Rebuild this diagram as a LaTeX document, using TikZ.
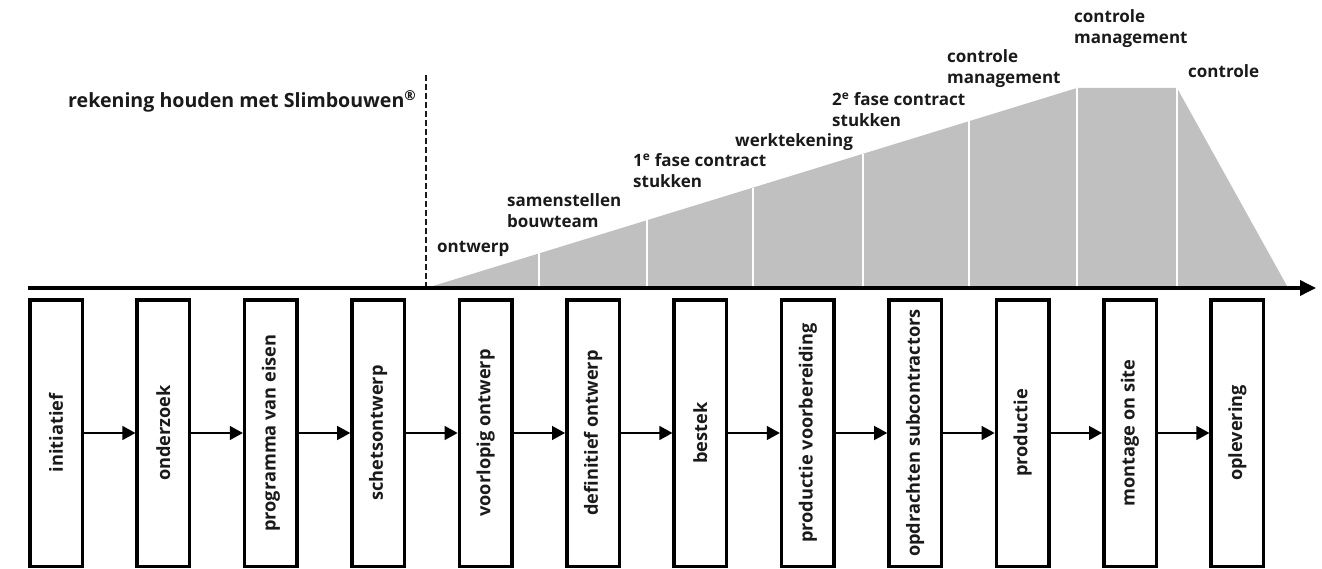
\documentclass[tikz,border=0pt]{standalone}
\usepackage{fontspec}
\setmainfont{Open Sans}
\usetikzlibrary{arrows.meta}
\definecolor{fillgrey}{RGB}{192,192,192}
\definecolor{inkc}{RGB}{26,26,26}
\tikzset{
  lbl/.style={anchor=north west, inner sep=0pt, align=left, text=inkc,
    font=\fontsize{17}{21}\selectfont\bfseries},
  stage/.style={draw=black, line width=3.5pt, minimum width=52.5pt, minimum height=266.5pt,
    inner sep=0pt},
  stagetxt/.style={rotate=90, text=inkc, font=\fontsize{18.2}{22}\selectfont\bfseries},
  flow/.style={draw=black, line width=1.4pt, -{Triangle[length=13pt,width=14pt]}},
  divider/.style={draw=white, line width=1.6pt},
}
\begin{document}
\begin{tikzpicture}[x=1pt,y=-1pt]
\useasboundingbox (0,0) rectangle (1322,569);
% grey effort shape
\fill[fillgrey] (433,286) -- (1077,88) -- (1177,88) -- (1287,286) -- cycle;
\foreach \xx/\yy in {539/253.4, 647/220.2, 753/187.6, 863/153.8, 969/121.2, 1077/88, 1177/88}
  \draw[divider] (\xx,286) -- (\xx,\yy);
% dashed separator
\coordinate (dtop) at (426,75);
\coordinate (dbot) at (426,288);
\draw[inkc, line width=2.2pt, dash pattern=on 6pt off 3pt] (dtop) -- (dbot);
% time axis
\coordinate (axs) at (28,288);
\coordinate (axe) at (1316,288);
\draw[line width=3.5pt, -{Triangle[length=16pt,width=15pt]}] (axs) -- (axe);
% labels
\node[lbl, font=\fontsize{19.6}{24}\selectfont\bfseries] (lslim) at (68,90) {\strut rekening houden met Slimbouwen\textsuperscript{®}};
\node[lbl] (lontw) at (437,238) {\strut ontwerp};
\node[lbl] (lsam) at (507,192) {\strut samenstellen\\bouwteam};
\node[lbl] (lfase1) at (633,152) {\strut 1\textsuperscript{e} fase contract\\stukken};
\node[lbl] (lwerk) at (735,132) {\strut werktekening};
\node[lbl] (lfase2) at (832,91) {\strut 2\textsuperscript{e} fase contract\\stukken};
\node[lbl] (lcm1) at (947,48) {\strut controle\\management};
\node[lbl] (lcm2) at (1074,8) {\strut controle\\management};
\node[lbl] (lctrl) at (1188,63) {\strut controle};
% stages
\foreach \i/\t in {1/initiatief, 2/onderzoek, 3/programma van eisen, 4/schetsontwerp,
  5/voorlopig ontwerp, 6/definitief ontwerp, 7/bestek, 8/productie voorbereiding,
  9/opdrachten subcontractors, 10/productie, 11/montage on site, 12/oplevering}{
  \node[stage] (b\i) at ({56+107.4*(\i-1)},433) {};
  \node[stagetxt] (t\i) at (b\i.center) {\t};
}
\foreach \i [evaluate=\i as \j using int(\i+1)] in {1,...,11}
  \draw[flow] (b\i.east) -- (b\j.west);
\end{tikzpicture}
\end{document}
